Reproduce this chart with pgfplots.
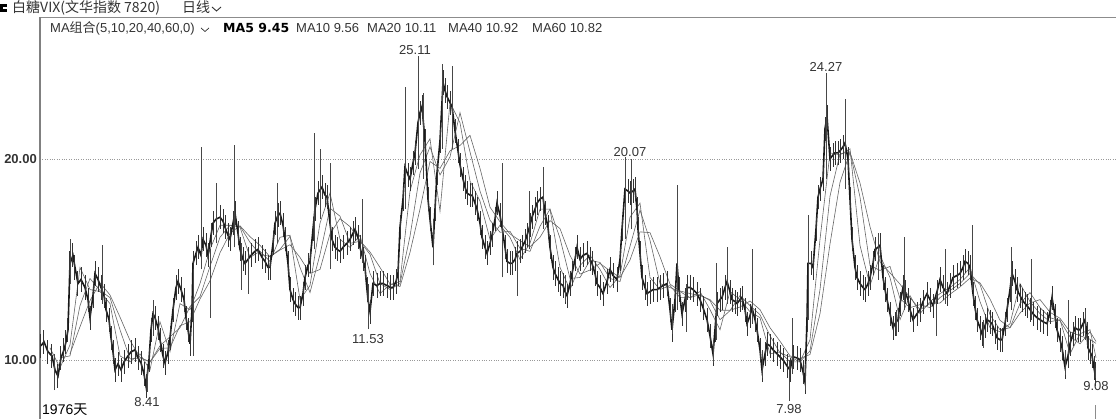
\documentclass[border=0pt]{standalone}
\usepackage{pgfplots}
\usepackage{pgfplotstable}
\pgfplotsset{compat=1.18}
\usepackage{fontspec}
\setmainfont{Liberation Sans}
\newfontfamily\cjk{Noto Sans CJK SC}
\newfontfamily\dvbold{DejaVu Sans Bold}
\definecolor{txt}{HTML}{333333}
\definecolor{price}{HTML}{1A1A1A}
\definecolor{maline}{HTML}{666666}
\pgfplotstableread{
x y
41 10.7
44 10.9
48 10.4
52 10.2
55 9.5
58 9.2
61 10.1
64 10.5
66 10.9
68 11.5
70 14.8
73 15.2
75 14.6
78 13.8
81 14.0
85 13.6
88 13.0
90 12.1
93 13.2
95 14.3
98 14.0
101 13.6
104 13.2
106 12.5
109 12.0
111 11.1
113 10.4
115 9.5
118 9.8
121 9.5
124 9.9
128 10.2
131 10.4
135 10.5
138 10.1
141 9.85
144 9.3
146 8.7
149 10.0
151 11.5
153 12.3
155 12.1
158 11.6
160 11.0
163 10.2
165 9.85
168 10.4
170 11.1
173 12.5
176 13.6
178 13.9
181 13.5
184 13.0
186 12.1
188 11.5
190 10.8
192 12.5
193 14.8
196 15.3
198 15.6
201 15.2
203 16.0
206 15.7
208 15.2
211 16.2
213 16.8
216 17.0
220 17.1
223 16.9
225 16.6
228 16.2
230 16.0
233 16.8
235 17.3
238 16.3
240 15.5
243 15.0
245 14.8
248 15.0
251 15.2
255 15.4
258 15.5
262 15.1
265 14.9
268 14.6
270 14.6
273 15.8
275 16.8
278 17.2
280 17.3
283 16.7
285 16.0
288 14.8
290 13.5
293 13.0
295 12.8
298 12.6
300 12.6
303 13.3
305 14.1
308 14.7
310 14.9
313 16.5
315 17.5
318 18.3
322 18.6
325 18.2
327 18.1
330 16.8
332 16.0
335 15.6
337 15.5
340 15.4
343 15.6
347 15.8
350 16.0
353 16.3
355 16.5
358 16.1
360 15.6
363 15.0
365 14.6
367 13.5
368 13.0
370 12.4
373 13.8
377 13.7
380 13.8
383 13.8
387 13.7
390 13.6
393 13.6
396 13.9
398 14.3
400 16.6
403 18.0
405 19.6
408 19.2
410 19.0
413 19.8
415 20.3
418 21.8
420 22.3
422 22.6
425 20.9
428 18.0
430 17.0
433 15.6
435 17.5
437 19.3
440 20.9
443 23.8
445 23.4
447 23.1
450 22.8
452 22.6
455 21.4
458 20.4
460 19.7
463 19.0
465 18.6
467 18.3
470 18.2
472 18.2
475 17.8
477 17.5
480 16.8
482 16.1
485 15.6
487 15.3
490 15.8
492 16.2
495 17.0
497 17.8
500 17.2
502 16.6
505 15.6
507 14.9
510 14.8
512 14.8
515 15.0
517 15.3
520 15.4
522 15.6
525 15.9
527 16.2
530 16.7
532 17.1
535 17.5
537 17.8
540 18.0
543 18.1
545 17.3
548 16.6
550 15.6
553 14.6
555 14.3
558 14.0
560 13.8
563 13.7
565 13.4
567 13.2
570 13.8
572 14.3
575 15.0
577 15.6
580 15.0
583 15.2
587 15.3
590 15.0
592 14.8
595 14.3
597 13.8
600 13.6
603 13.3
607 13.9
610 14.5
613 14.2
617 14.0
620 15.0
622 16.5
625 18.5
628 18.4
630 18.3
633 18.4
635 18.5
637 17.5
638 16.5
640 15.3
642 14.1
645 13.6
647 13.3
650 13.4
653 13.5
657 13.5
660 13.6
663 13.7
667 13.8
670 12.5
672 11.5
675 13.0
677 14.8
679 13.5
682 12.3
685 13.0
687 13.6
690 13.6
693 13.5
697 13.3
700 13.0
703 12.6
707 12.0
710 11.2
713 10.3
715 11.5
717 12.8
720 13.0
722 13.1
725 13.6
727 13.9
730 13.4
732 13.0
735 12.9
737 12.8
740 13.0
742 13.1
745 12.5
747 11.8
750 12.2
752 12.6
755 12.0
757 11.5
760 10.5
762 9.5
765 10.3
767 10.8
770 10.7
773 10.5
777 10.3
780 10.15
783 10.0
787 9.7
790 9.5
793 10.15
797 10.1
800 10.0
803 9.4
805 8.9
807 12.0
808 14.8
811 14.8
813 14.6
816 16.5
818 18.1
820 18.5
823 19.0
825 21.5
827 22.1
830 20.0
833 20.2
835 20.3
838 20.3
840 20.4
843 20.6
845 20.8
848 20.0
850 18.0
852 16.0
855 14.6
857 14.1
860 13.8
863 13.6
865 13.5
868 13.8
870 14.1
873 14.8
875 15.5
878 15.6
880 15.7
883 14.1
885 13.5
887 13.0
890 12.3
893 11.6
895 11.8
898 12.0
900 12.8
903 13.6
905 13.4
908 13.0
910 12.5
913 12.0
917 12.3
920 12.5
923 12.9
927 13.3
930 13.0
933 12.7
937 13.4
940 14.0
943 13.6
947 13.3
950 13.7
953 14.1
957 14.2
960 14.3
963 14.6
965 14.9
968 14.8
970 14.6
973 13.3
975 12.6
977 12.0
980 11.6
982 11.3
985 11.7
987 12.0
990 11.9
992 11.8
995 11.4
997 11.1
1000 11.0
1002 11.0
1005 11.8
1007 12.5
1010 13.5
1012 14.3
1015 13.9
1017 13.5
1020 13.2
1022 13.0
1025 12.8
1027 12.7
1030 12.5
1033 12.3
1037 12.1
1040 12.0
1043 11.9
1047 11.8
1050 12.4
1052 13.1
1055 12.2
1057 11.5
1060 11.0
1062 10.6
1065 9.65
1068 10.2
1070 10.8
1073 11.3
1075 11.6
1078 11.5
1080 11.5
1083 11.8
1085 12.0
1087 11.3
1088 10.6
1090 10.4
1092 10.2
1094 9.6
1095 9.3
}\closetab
\pgfplotstableread{
x lo hi
54 8.5 10.3
70 13.8 16.0
102 12.8 15.7
147 8.41 9.8
153 11.2 13.0
193 10.2 14.5
201 14.5 20.6
210 12.1 15.5
216 15.8 18.8
234 15.6 20.7
241 13.5 15.8
248 13.3 15.2
277 15.8 18.8
314 15.5 21.3
320 17.0 20.5
330 14.5 19.8
362 14.8 18.0
368 11.53 13.8
405 17.5 23.6
418 19.5 25.11
423 19.0 23.3
433 14.7 17.0
442 20.5 24.7
452 20.5 24.6
502 14.1 19.8
517 13.2 15.5
529 15.5 18.4
543 16.5 19.6
565 12.9 14.2
625 16.0 20.07
631 16.5 20.0
672 11.3 12.8
677 12.5 18.7
686 11.4 13.8
713 9.85 11.0
716 11.0 14.8
727 12.8 15.6
752 11.8 15.5
762 9.1 10.5
789 7.98 10.0
792 9.3 12.1
805 8.5 9.8
808 12.0 17.2
826 19.0 24.27
845 18.5 23.0
878 14.0 16.3
896 11.2 12.5
904 12.5 16.1
936 11.2 13.3
945 12.8 15.5
972 13.5 16.7
983 10.6 12.0
1011 12.5 15.6
1031 12.0 15.0
1065 9.25 10.5
1068 10.3 13.0
1085 11.0 12.5
1095 9.08 9.6
}\spiketab
\pgfplotstableread{
x y
50 10.6
60 9.6
70 10.75
80 14.6
90 13.5
100 13.4
110 12.8
120 10.2
130 9.9
140 10.3
150 9.5
160 11.9
170 10.4
180 12.8
190 12.5
200 13.8
210 15.5
220 16.7
230 16.7
240 16.6
250 15.1
260 15.4
270 14.9
280 16.1
290 16.2
300 13.0
310 13.7
320 16.8
330 18.3
340 16.0
350 15.6
360 16.2
370 14.3
380 13.3
390 13.75
400 13.9
410 18.4
420 20.2
430 21.0
440 17.4
450 22.8
460 21.8
470 18.9
480 17.9
490 16.0
500 16.7
510 16.1
520 15.0
530 15.8
540 17.5
550 17.5
560 14.6
570 13.5
580 14.7
590 15.2
600 14.5
610 13.6
620 14.2
630 17.1
640 17.8
650 14.1
660 13.5
670 13.7
680 13.1
690 13.1
700 13.4
710 12.5
720 11.5
730 13.4
740 13.0
750 12.4
760 12.1
770 10.3
780 10.4
790 9.9
800 9.9
810 11.0
820 16.0
830 20.3
840 20.2
850 20.5
860 15.7
870 13.7
880 15.2
890 14.1
900 12.0
910 13.2
920 12.3
930 12.9
940 13.3
950 13.6
960 14.0
970 14.6
980 12.9
990 11.6
1000 11.4
1010 11.8
1020 13.8
1030 12.9
1040 12.3
1050 11.9
1060 12.0
1070 10.3
1080 11.3
1090 11.5
1096 10.11
}\matwenty
\pgfplotstableread{
x y
60 10.1
70 10.2
80 12.7
90 14.05
100 13.45
110 13.1
120 11.5
130 10.05
140 10.1
150 9.9
160 10.7
170 11.15
180 11.6
190 12.65
200 13.15
210 14.65
220 16.1
230 16.7
240 16.65
250 15.85
260 15.25
270 15.15
280 15.5
290 16.15
300 14.6
310 13.35
320 15.25
330 17.55
340 17.15
350 15.8
360 15.9
370 15.25
380 13.8
390 13.5
400 13.8
410 16.15
420 19.3
430 20.6
440 19.2
450 20.1
460 22.3
470 20.35
480 18.4
490 16.95
500 16.35
510 16.4
520 15.55
530 15.4
540 16.65
550 17.5
560 16.05
570 14.05
580 14.1
590 14.95
600 14.85
610 14.05
620 13.9
630 15.65
640 17.45
650 15.95
660 13.8
670 13.6
680 13.4
690 13.1
700 13.25
710 12.95
720 12.0
730 12.45
740 13.2
750 12.7
760 12.25
770 11.2
780 10.35
790 10.15
800 9.9
810 10.45
820 13.5
830 18.15
840 20.25
850 20.35
860 18.1
870 14.7
880 14.45
890 14.65
900 13.05
910 12.6
920 12.75
930 12.6
940 13.1
950 13.45
960 13.8
970 14.3
980 13.75
990 12.25
1000 11.5
1010 11.6
1020 12.8
1030 13.35
1040 12.6
1050 12.1
1060 11.95
1070 11.15
1080 10.8
1090 11.4
1096 10.92
}\mafourty
\pgfplotstableread{
x y
70 10.3
80 11.65
90 12.95
100 13.83
110 13.23
120 12.13
130 10.97
140 10.13
150 9.9
160 10.57
170 10.6
180 11.7
190 11.9
200 13.03
210 13.93
220 15.33
230 16.3
240 16.67
250 16.13
260 15.7
270 15.13
280 15.47
290 15.73
300 15.1
310 14.3
320 14.5
330 16.27
340 17.03
350 16.63
360 15.93
370 15.37
380 14.6
390 13.78
400 13.65
410 15.35
420 17.5
430 19.87
440 19.53
450 20.4
460 20.67
470 21.17
480 19.53
490 17.6
500 16.87
510 16.27
520 15.93
530 15.63
540 16.1
550 16.93
560 16.53
570 15.2
580 14.27
590 14.47
600 14.8
610 14.43
620 14.1
630 14.97
640 16.37
650 16.33
660 15.13
670 13.77
680 13.43
690 13.3
700 13.2
710 13.0
720 12.47
730 12.47
740 12.63
750 12.93
760 12.5
770 11.6
780 10.93
790 10.2
800 10.07
810 10.27
820 12.3
830 15.77
840 18.83
850 20.33
860 18.8
870 16.63
880 14.87
890 14.33
900 13.77
910 13.1
920 12.5
930 12.8
940 12.83
950 13.27
960 13.63
970 14.07
980 13.83
990 13.03
1000 11.97
1010 11.6
1020 12.33
1030 12.83
1040 13.0
1050 12.37
1060 12.07
1070 11.4
1080 11.2
1090 11.03
1096 10.82
}\masixty
\begin{document}
\begin{tikzpicture}[x=1pt,y=1pt]
\useasboundingbox (-40,0) rectangle (1076,419);
\begin{axis}[
  at={(0,0)}, anchor=south west,
  scale only axis, width=1076pt, height=402pt,
  xmin=40, xmax=1116, ymin=7.06, ymax=27.06,
  axis x line*=top, axis y line*=left,
  x axis line style={draw=black!45, line width=0.8pt},
  y axis line style={draw=black!50, line width=1.2pt},
  xtick=\empty,
  ytick={10,20}, yticklabels={10.00,20.00},
  ymajorgrids, grid style={dotted, black!40, line width=0.6pt},
  major tick length=0pt,
  yticklabel style={font=\bfseries\fontsize{13}{13}\selectfont, text=txt, inner sep=3pt},
  clip=true,
]
\addplot[maline, line width=0.6pt] table[x=x,y=y] {\masixty};
\addplot[maline, line width=0.6pt] table[x=x,y=y] {\mafourty};
\addplot[maline, line width=0.6pt] table[x=x,y=y] {\matwenty};
\addplot[price, line width=1.6pt, no markers,
  error bars/.cd, y dir=both, y fixed=0.6, error mark=none,
  error bar style={line width=1pt, draw=black!80}] table[x=x,y=y] {\closetab};
\addplot[draw=none, mark=none,
  error bars/.cd, y dir=plus, y explicit, error mark=none,
  error bar style={line width=0.8pt, draw=black!72}]
  table[x=x, y=lo, y error expr=\thisrow{hi}-\thisrow{lo}] {\spiketab};
\addplot[black!45, line width=0.8pt] coordinates {(1095,7.06) (1095,7.75)};
\begin{scope}[every node/.style={font=\fontsize{13}{13}\selectfont, text=txt, inner sep=1pt}]
\node[anchor=south] at (axis cs:415,25.11) {25.11};
\node[anchor=south] at (axis cs:826,24.27) {24.27};
\node[anchor=south] at (axis cs:630,20.07) {20.07};
\node[anchor=north] at (axis cs:368,11.35) {11.53};
\node[anchor=north] at (axis cs:147,8.2) {8.41};
\node[anchor=north] at (axis cs:789,7.85) {7.98};
\node[anchor=north] at (axis cs:1096,9.0) {9.08};
\end{scope}
\end{axis}
% header
\fill[black] (-40,407) rectangle (-33,415);
\fill[white] (-37,410) rectangle (-33,412);
\node[anchor=base west, inner sep=0pt, text=txt, font=\cjk\fontsize{14}{14}\selectfont] at (-28,406) {白糖VIX(文华指数 7820)};
\node[anchor=base west, inner sep=0pt, text=txt, font=\cjk\fontsize{14}{14}\selectfont] at (142,406) {日线};
\draw[txt, line width=0.9pt] (172,412) -- (176.5,408) -- (181,412);
\node[anchor=base west, inner sep=0pt, text=txt, font=\fontsize{13}{13}\selectfont] at (10,386) {MA{\cjk 组合}(5,10,20,40,60,0)};
\draw[txt, line width=0.7pt] (161,391) -- (165,387.5) -- (169,391);
\node[anchor=base west, inner sep=0pt, text=black, font=\dvbold\fontsize{12.5}{12.5}\selectfont] at (183,386) {MA5 9.45};
\node[anchor=base west, inner sep=0pt, text=txt, font=\fontsize{13}{13}\selectfont] at (256,386) {MA10 9.56};
\node[anchor=base west, inner sep=0pt, text=txt, font=\fontsize{13}{13}\selectfont] at (327,386) {MA20 10.11};
\node[anchor=base west, inner sep=0pt, text=txt, font=\fontsize{13}{13}\selectfont] at (408,386) {MA40 10.92};
\node[anchor=base west, inner sep=0pt, text=txt, font=\fontsize{13}{13}\selectfont] at (492,386) {MA60 10.82};
\node[anchor=base west, inner sep=0pt, text=black, font=\fontsize{14}{14}\selectfont] at (2,4) {1976{\cjk 天}};
\end{tikzpicture}
\end{document}
